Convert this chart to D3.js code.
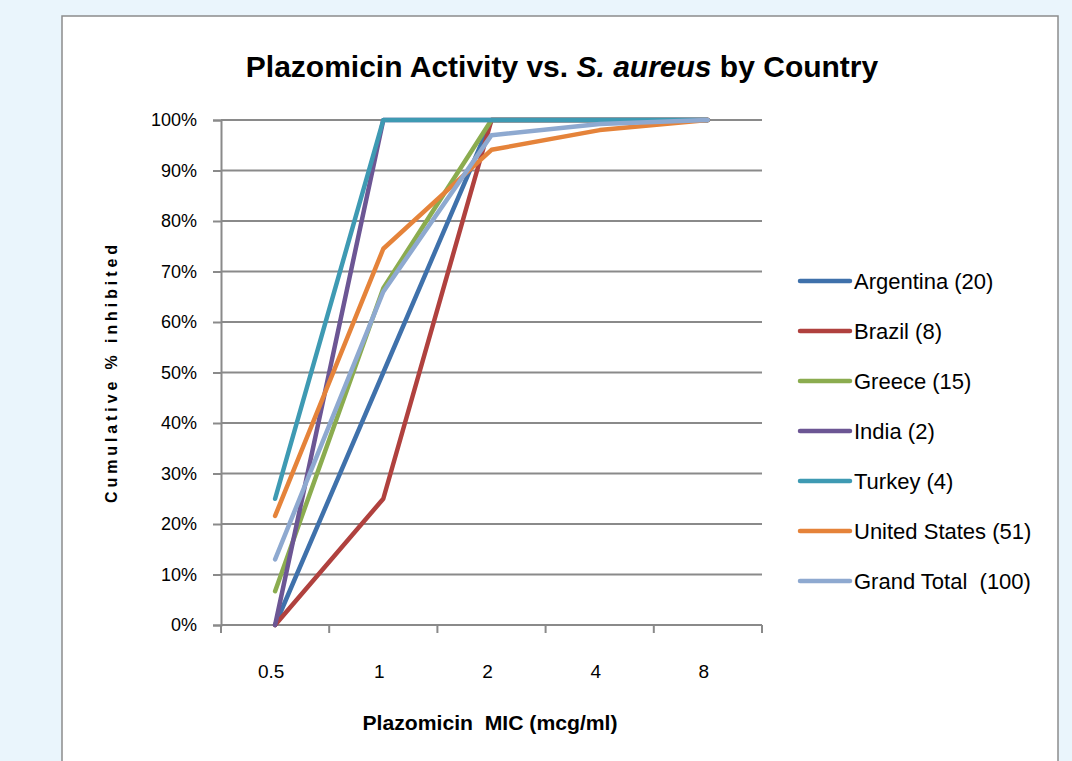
<!DOCTYPE html>
<html>
<head>
<meta charset="utf-8">
<script src="https://cdn.jsdelivr.net/npm/d3@7"></script>
<style>
  body { margin: 0; background: #eaf5fc; }
  svg { display: block; }
  text { font-family: 'Liberation Sans', sans-serif; }
</style>
</head>
<body>
<div id="chart"></div>
<script>
// MIC categories (x) and cumulative % inhibited for each country
const micLabels = ['0.5', '1', '2', '4', '8']
const seriesNames = ['Argentina (20)', 'Brazil (8)', 'Greece (15)', 'India (2)', 'Turkey (4)', 'United States (51)', 'Grand Total  (100)']
const argentina = [0, 50, 100, 100, 100]
const brazil = [0, 25, 100, 100, 100]
const greece = [6.7, 66.7, 100, 100, 100]
const india = [0, 100, 100, 100, 100]
const turkey = [25, 100, 100, 100, 100]
const unitedStates = [21.6, 74.5, 94.1, 98, 100]
const grandTotal = [13, 66, 97, 99.2, 100]
const yTicks = [0, 10, 20, 30, 40, 50, 60, 70, 80, 90, 100]
const colors = ['#3f71ab', '#b0413e', '#8bac4f', '#6c5694', '#3e9ab3', '#e5833a', '#8ea9d0']

const allSeries = [argentina, brazil, greece, india, turkey, unitedStates, grandTotal]

const W = 1072, H = 761
const margin = {top: 120, left: 221, right: 310, bottom: 136}
const width = W - margin.left - margin.right
const height = H - margin.top - margin.bottom

const svg = d3.select('#chart').append('svg')
    .attr('width', W)
    .attr('height', H)

// chart frame
svg.append('rect')
    .attr('x', 62).attr('y', 16)
    .attr('width', 996).attr('height', 760)
    .attr('fill', '#fff')
    .attr('stroke', '#8c8c8c')
    .attr('stroke-width', 1.5)

// title
const title = svg.append('text')
    .attr('x', 562).attr('y', 77)
    .attr('text-anchor', 'middle')
    .style('font-weight', 'bold')
    .style('font-size', '30px')
title.append('tspan').text('Plazomicin Activity vs. ')
title.append('tspan').style('font-style', 'italic').text('S. aureus')
title.append('tspan').text(' by Country')

const x = d3.scaleBand()
    .domain(micLabels)
    .range([0, width])
const y = d3.scaleLinear()
    .domain([0, 100])
    .range([height, 0])

const g = svg.append('g')
    .attr('transform', `translate(${margin.left},${margin.top})`)

// gridlines
g.append('g')
    .selectAll('line')
    .data(yTicks)
    .join('line')
    .attr('x1', 0).attr('x2', width)
    .attr('y1', d => y(d)).attr('y2', d => y(d))
    .attr('stroke', '#8a8a8a')
    .attr('stroke-width', 2)

// y axis
const yAxis = g.append('g')
    .call(d3.axisLeft(y).tickValues(yTicks).tickFormat(d => d + '%').tickSize(8).tickPadding(16))
yAxis.selectAll('line, path').attr('stroke', '#8a8a8a').attr('stroke-width', 2)
yAxis.selectAll('text')
    .attr('fill', '#000')
    .style('font-family', "'Liberation Sans', sans-serif")
    .style('font-size', '18px')

// x axis: ticks at band boundaries
const xAxis = g.append('g')
    .attr('transform', `translate(0,${height})`)
xAxis.append('line')
    .attr('x1', 0).attr('x2', width)
    .attr('stroke', '#8a8a8a').attr('stroke-width', 2)
const bounds = micLabels.map(d => x(d)).concat([width])
xAxis.selectAll('.xt')
    .data(bounds)
    .join('line')
    .attr('class', 'xt')
    .attr('x1', d => d).attr('x2', d => d)
    .attr('y1', 0).attr('y2', 8)
    .attr('stroke', '#8a8a8a').attr('stroke-width', 2)
xAxis.selectAll('.xl')
    .data(micLabels)
    .join('text')
    .attr('class', 'xl')
    .attr('x', d => x(d) + x.bandwidth() / 2 - 4)
    .attr('y', 53)
    .attr('text-anchor', 'middle')
    .style('font-size', '19px')
    .text(d => d)

// axis titles
svg.append('text')
    .attr('x', 490).attr('y', 730)
    .attr('text-anchor', 'middle')
    .attr('textLength', 255)
    .attr('lengthAdjust', 'spacingAndGlyphs')
    .style('font-weight', 'bold')
    .style('font-size', '20px')
    .style('white-space', 'pre')
    .text('Plazomicin  MIC (mcg/ml)')
svg.append('text')
    .attr('transform', 'translate(117,374) rotate(-90)')
    .attr('text-anchor', 'middle')
    .attr('textLength', 258)
    .attr('lengthAdjust', 'spacing')
    .style('font-weight', 'bold')
    .style('font-size', '16px')
    .text('Cumulative % inhibited')

// lines
const line = d3.line()
    .x((d, i) => x(micLabels[i]) + x.bandwidth() / 2)
    .y(d => y(d))
allSeries.forEach((s, i) => {
    g.append('path')
        .datum(s)
        .attr('d', line)
        .attr('fill', 'none')
        .attr('stroke', colors[i])
        .attr('stroke-width', 4.5)
        .attr('stroke-linecap', 'round')
        .attr('stroke-linejoin', 'round')
})

// legend
const legend = svg.append('g')
    .attr('transform', 'translate(800,281)')
seriesNames.forEach((name, i) => {
    const row = legend.append('g').attr('transform', `translate(0,${i * 50})`)
    row.append('line')
        .attr('x1', 0).attr('x2', 50)
        .attr('stroke', colors[i])
        .attr('stroke-width', 4.5)
        .attr('stroke-linecap', 'round')
    row.append('text')
        .attr('x', 54).attr('y', 8)
        .style('font-size', '22px')
        .style('white-space', 'pre')
        .text(name)
})
</script>
</body>
</html>
